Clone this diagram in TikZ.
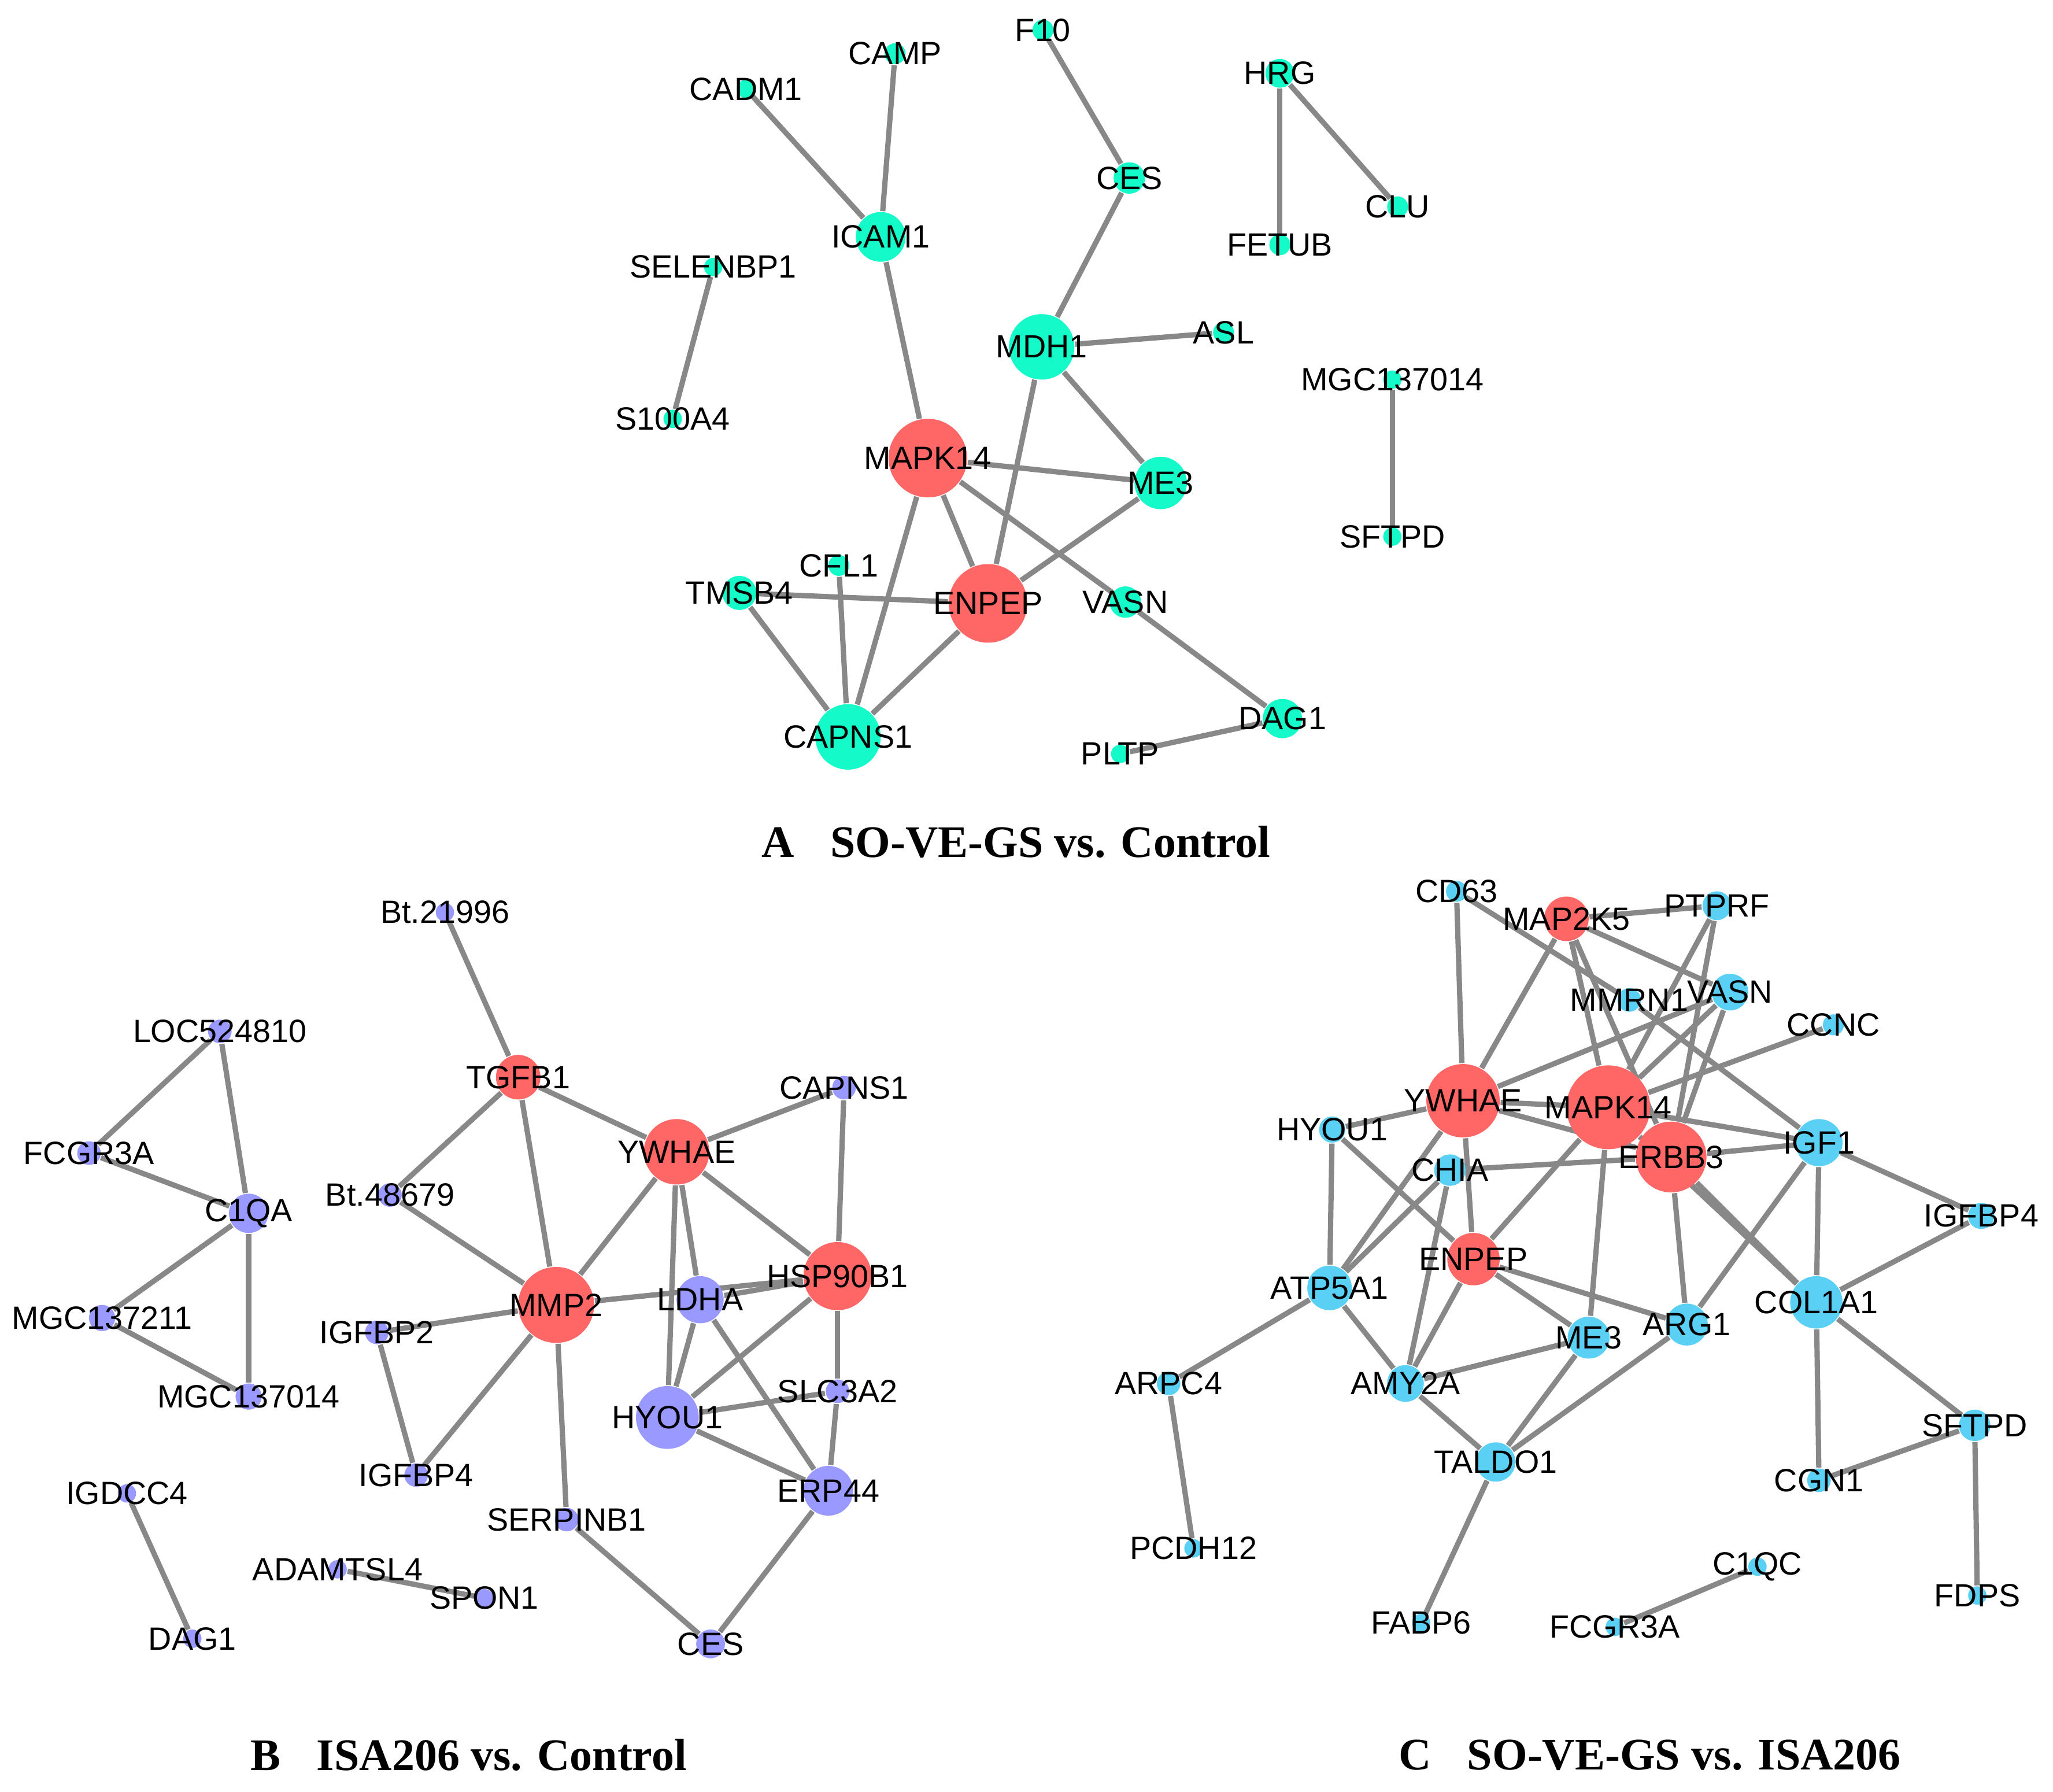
\documentclass[tikz,border=0pt]{standalone}
\usepackage{fontspec}
\setmainfont{Liberation Sans}
\newfontfamily\ttl{Liberation Serif}
\usetikzlibrary{backgrounds}
\definecolor{cA}{RGB}{20,250,200}
\definecolor{cB}{RGB}{153,153,255}
\definecolor{cC}{RGB}{90,208,245}
\definecolor{cR}{RGB}{255,102,102}
\definecolor{eg}{RGB}{136,136,136}
\newcommand{\nd}[6]{\node[gn,fill=#5,minimum size=#4*0.02cm,label={[lab]center:#6}] (#1) at (#2*0.01,-#3*0.01) {};}
\begin{document}
\begin{tikzpicture}[x=1cm,y=1cm,
  gn/.style={circle,draw=none,inner sep=0pt},
  lab/.style={font=\fontsize{7}{8}\selectfont,inner sep=0pt},
  ed/.style={draw=eg,line width=1.15pt},
  ttlst/.style={font=\ttl\bfseries\fontsize{9.8}{11}\selectfont}]
\useasboundingbox (0,0) rectangle (15.68,-13.68);
% Panel A
\nd{aCAMP}{684}{41}{8}{cA}{CAMP}
\nd{aCADM1}{570}{68}{7}{cA}{CADM1}
\nd{aF10}{797}{23}{8}{cA}{F10}
\nd{aHRG}{978}{56}{11}{cA}{HRG}
\nd{aCES}{863}{136}{12}{cA}{CES}
\nd{aCLU}{1068}{158}{8}{cA}{CLU}
\nd{aICAM1}{673}{181}{19}{cA}{ICAM1}
\nd{aFETUB}{978}{187}{8}{cA}{FETUB}
\nd{aSELENBP1}{545}{204}{7}{cA}{SELENBP1}
\nd{aMDH1}{796}{265}{25}{cA}{MDH1}
\nd{aASL}{935}{254}{8}{cA}{ASL}
\nd{aMGC}{1064}{290}{7}{cA}{MGC137014}
\nd{aS100A4}{514}{320}{7}{cA}{S100A4}
\nd{aMAPK14}{709}{350}{30}{cR}{MAPK14}
\nd{aME3}{887}{369}{20}{cA}{ME3}
\nd{aSFTPD}{1064}{410}{7}{cA}{SFTPD}
\nd{aCFL1}{641}{432}{8}{cA}{CFL1}
\nd{aTMSB4}{565}{453}{13}{cA}{TMSB4}
\nd{aENPEP}{755}{461}{30}{cR}{ENPEP}
\nd{aVASN}{860}{460}{12}{cA}{VASN}
\nd{aCAPNS1}{648}{563}{25}{cA}{CAPNS1}
\nd{aDAG1}{980}{549}{15}{cA}{DAG1}
\nd{aPLTP}{856}{576}{7}{cA}{PLTP}
% Panel B
\nd{bBt21}{340}{697}{7}{cB}{Bt.21996}
\nd{bLOC}{168}{788}{9}{cB}{LOC524810}
\nd{bTGFB1}{396}{823}{17}{cR}{TGFB1}
\nd{bCAPNS1}{645}{831}{9}{cB}{CAPNS1}
\nd{bYWHAE}{517}{880}{25}{cR}{YWHAE}
\nd{bFCGR3A}{68}{881}{9}{cB}{FCGR3A}
\nd{bC1QA}{190}{927}{15}{cB}{C1QA}
\nd{bBt48}{298}{913}{9}{cB}{Bt.48679}
\nd{bMMP2}{425}{997}{29}{cR}{MMP2}
\nd{bLDHA}{535}{993}{18}{cB}{LDHA}
\nd{bHSP}{640}{975}{26}{cR}{HSP90B1}
\nd{bIGFBP2}{288}{1018}{9}{cB}{IGFBP2}
\nd{bMGC211}{78}{1007}{10}{cB}{MGC137211}
\nd{bMGC014}{190}{1067}{10}{cB}{MGC137014}
\nd{bSLC}{640}{1063}{9}{cB}{SLC3A2}
\nd{bHYOU1}{510}{1083}{24}{cB}{HYOU1}
\nd{bIGFBP4}{318}{1127}{9}{cB}{IGFBP4}
\nd{bERP44}{633}{1139}{19}{cB}{ERP44}
\nd{bSERP}{433}{1161}{9}{cB}{SERPINB1}
\nd{bIGDCC4}{97}{1141}{7}{cB}{IGDCC4}
\nd{bADAM}{258}{1199}{7}{cB}{ADAMTSL4}
\nd{bSPON1}{370}{1221}{7}{cB}{SPON1}
\nd{bDAG1}{147}{1252}{7}{cB}{DAG1}
\nd{bCES}{543}{1256}{11}{cB}{CES}
% Panel C
\nd{cCD63}{1113}{681}{8}{cC}{CD63}
\nd{cMAP2K5}{1197}{702}{17}{cR}{MAP2K5}
\nd{cPTPRF}{1312}{692}{11}{cC}{PTPRF}
\nd{cMMRN1}{1245}{764}{9}{cC}{MMRN1}
\nd{cVASN}{1322}{758}{14}{cC}{VASN}
\nd{cCCNC}{1401}{783}{8}{cC}{CCNC}
\nd{cYWHAE}{1118}{841}{28}{cR}{YWHAE}
\nd{cMAPK14}{1229}{846}{32}{cR}{MAPK14}
\nd{cIGF1}{1390}{873}{18}{cC}{IGF1}
\nd{cHYOU1}{1018}{863}{10}{cC}{HYOU1}
\nd{cERBB3}{1277}{884}{27}{cR}{ERBB3}
\nd{cCHIA}{1108}{894}{12}{cC}{CHIA}
\nd{cIGFBP4}{1514}{929}{10}{cC}{IGFBP4}
\nd{cENPEP}{1126}{962}{20}{cR}{ENPEP}
\nd{cATP5A1}{1016}{984}{17}{cC}{ATP5A1}
\nd{cCOL1A1}{1388}{995}{20}{cC}{COL1A1}
\nd{cARG1}{1289}{1012}{16}{cC}{ARG1}
\nd{cME3}{1214}{1022}{16}{cC}{ME3}
\nd{cARPC4}{893}{1057}{9}{cC}{ARPC4}
\nd{cAMY2A}{1074}{1057}{14}{cC}{AMY2A}
\nd{cSFTPD}{1509}{1089}{12}{cC}{SFTPD}
\nd{cTALDO1}{1143}{1117}{15}{cC}{TALDO1}
\nd{cCGN1}{1390}{1131}{9}{cC}{CGN1}
\nd{cPCDH12}{912}{1183}{7}{cC}{PCDH12}
\nd{cC1QC}{1343}{1197}{7}{cC}{C1QC}
\nd{cFDPS}{1511}{1219}{7}{cC}{FDPS}
\nd{cFABP6}{1086}{1240}{7}{cC}{FABP6}
\nd{cFCGR3A}{1234}{1243}{7}{cC}{FCGR3A}
\begin{scope}[on background layer]
\foreach \u/\v in {aCAMP/aICAM1,aCADM1/aICAM1,aICAM1/aMAPK14,aF10/aCES,aCES/aMDH1,aHRG/aFETUB,aHRG/aCLU,aSELENBP1/aS100A4,aMDH1/aASL,aMDH1/aME3,aMDH1/aENPEP,aMGC/aSFTPD,aMAPK14/aME3,aMAPK14/aENPEP,aMAPK14/aCAPNS1,aMAPK14/aVASN,aVASN/aDAG1,aENPEP/aME3,aENPEP/aCAPNS1,aTMSB4/aENPEP,aCFL1/aCAPNS1,aTMSB4/aCAPNS1,aPLTP/aDAG1,
bBt21/bTGFB1,bTGFB1/bBt48,bTGFB1/bMMP2,bTGFB1/bYWHAE,bYWHAE/bCAPNS1,bYWHAE/bMMP2,bYWHAE/bLDHA,bYWHAE/bHYOU1,bYWHAE/bHSP,bCAPNS1/bHSP,bLOC/bFCGR3A,bLOC/bC1QA,bFCGR3A/bC1QA,bC1QA/bMGC211,bC1QA/bMGC014,bMGC211/bMGC014,bBt48/bMMP2,bMMP2/bIGFBP2,bMMP2/bIGFBP4,bIGFBP2/bIGFBP4,bMMP2/bHSP,bMMP2/bSERP,bLDHA/bHSP,bLDHA/bHYOU1,bLDHA/bERP44,bHSP/bHYOU1,bHSP/bSLC,bSLC/bERP44,bHYOU1/bSLC,bHYOU1/bERP44,bSERP/bCES,bERP44/bCES,bIGDCC4/bDAG1,bADAM/bSPON1,
cCD63/cYWHAE,cCD63/cMMRN1,cMMRN1/cIGF1,cMAP2K5/cPTPRF,cMAP2K5/cVASN,cMAP2K5/cYWHAE,cMAP2K5/cMAPK14,cMAP2K5/cERBB3,cPTPRF/cMAPK14,cPTPRF/cERBB3,cVASN/cYWHAE,cVASN/cMAPK14,cVASN/cERBB3,cCCNC/cMAPK14,cYWHAE/cMAPK14,cYWHAE/cERBB3,cYWHAE/cHYOU1,cYWHAE/cATP5A1,cYWHAE/cENPEP,cMAPK14/cIGF1,cMAPK14/cENPEP,cMAPK14/cME3,cMAPK14/cCOL1A1,cERBB3/cIGF1,cERBB3/cCHIA,cERBB3/cARG1,cERBB3/cCOL1A1,cIGF1/cIGFBP4,cIGF1/cCOL1A1,cIGF1/cARG1,cIGFBP4/cCOL1A1,cCOL1A1/cCGN1,cCOL1A1/cSFTPD,cSFTPD/cCGN1,cSFTPD/cFDPS,cHYOU1/cATP5A1,cHYOU1/cENPEP,cCHIA/cATP5A1,cCHIA/cAMY2A,cENPEP/cAMY2A,cENPEP/cME3,cENPEP/cARG1,cATP5A1/cAMY2A,cATP5A1/cARPC4,cAMY2A/cME3,cAMY2A/cTALDO1,cME3/cTALDO1,cARG1/cTALDO1,cTALDO1/cFABP6,cARPC4/cPCDH12,cC1QC/cFCGR3A}
  \draw[ed] (\u) -- (\v);
\end{scope}
\node[ttlst] (tA) at (7.76,-6.43) {A\hspace{0.8em}SO-VE-GS vs. Control};
\node[ttlst] (tB) at (3.58,-13.40) {B\hspace{0.8em}ISA206 vs. Control};
\node[ttlst] (tC) at (12.60,-13.40) {C\hspace{0.8em}SO-VE-GS vs. ISA206};
\end{tikzpicture}
\end{document}
